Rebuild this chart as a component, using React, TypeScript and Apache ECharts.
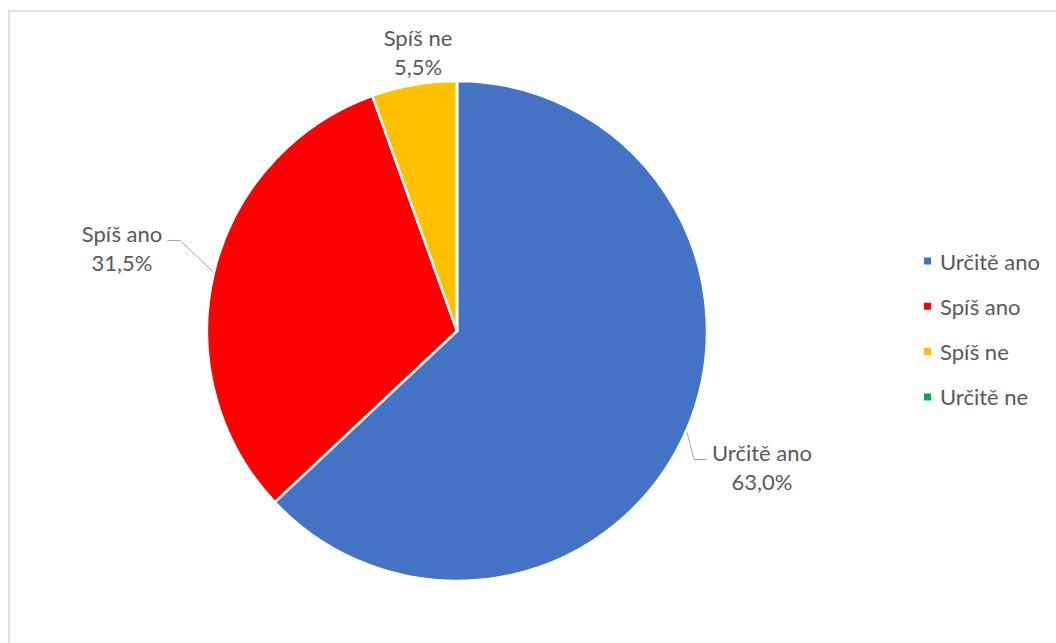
import React, { useEffect, useRef } from "react";
import * as echarts from "echarts";

const categories = ["Určitě ano", "Spíš ano", "Spíš ne", "Určitě ne"];
const values = [63.0, 31.5, 5.5, 0];
const colors = ["#4472C4", "#FF0000", "#FFC000", "#00B050"];

const FONT = "Lato";
const TEXT_COLOR = "#595959";

// label centre positions (x, y) per slice; null = hidden
const labelCenters: (number[] | null)[] = [[762, 467], [122, 248], [418, 52], null];

const fmt = (v: number) => v.toFixed(1).replace(".", ",") + "%";

export default function App() {
  const ref = useRef<HTMLDivElement>(null);
  useEffect(() => {
    if (!ref.current) return;
    const chart = echarts.init(ref.current, undefined, { renderer: "svg" });
    const data = categories.map((name, i) => ({
      name,
      value: values[i],
      itemStyle: { color: colors[i] },
      label: { show: labelCenters[i] !== null },
      labelLine: { show: labelCenters[i] !== null && i !== 2 },
    }));
    chart.setOption({
      animation: false,
      backgroundColor: "#ffffff",
      textStyle: { fontFamily: FONT },
      graphic: [
        {
          type: "rect",
          z: -10,
          shape: { x: 9, y: 11, width: 1200, height: 800 },
          style: { fill: "none", stroke: "#d9d9d9", lineWidth: 1.5 },
        },
      ],
      legend: {
        orient: "vertical",
        left: 922,
        top: 250,
        padding: 0,
        itemWidth: 9,
        itemHeight: 9,
        itemGap: 23.3,
        icon: "rect",
        data: categories,
        textStyle: {
          fontFamily: FONT,
          fontSize: 22,
          lineHeight: 22,
          color: TEXT_COLOR,
          padding: [0, 0, 0, 3],
        },
      },
      series: [
        {
          type: "pie",
          center: [457, 331],
          radius: 250,
          startAngle: 90,
          clockwise: true,
          avoidLabelOverlap: false,
          itemStyle: { borderColor: "#ffffff", borderWidth: 2.5 },
          emphasis: { disabled: true },
          label: {
            show: true,
            position: "outside",
            formatter: (p: any) => `${p.name}\n${fmt(p.value)}`,
            fontFamily: FONT,
            fontSize: 22,
            lineHeight: 29,
            color: TEXT_COLOR,
            align: "center",
          },
          labelLine: {
            show: true,
            length: 10,
            length2: 10,
            lineStyle: { color: "#A6A6A6", width: 1 },
          },
          labelLayout: (params: any) => {
            const c = labelCenters[params.dataIndex];
            if (!c) return {};
            const [cx, cy] = c;
            const halfW = params.labelRect.width / 2;
            const isLeft = cx < 457;
            const ly = cy - 7.5;
            const edge = params.labelLinePoints ? params.labelLinePoints[0] : [cx, cy];
            const endX = isLeft ? cx + halfW + 5 : cx - halfW - 5;
            const bendX = isLeft ? cx + halfW + 18 : cx - halfW - 18;
            return {
              x: cx,
              y: cy,
              align: "center",
              verticalAlign: "middle",
              labelLinePoints: [edge, [bendX, ly], [endX, ly]],
            };
          },
          data,
        },
      ],
    });
    return () => chart.dispose();
  }, []);
  return (
    <div
      ref={ref}
      style={{ position: "absolute", left: 0, top: 0, width: 1056, height: 643 }}
    />
  );
}
